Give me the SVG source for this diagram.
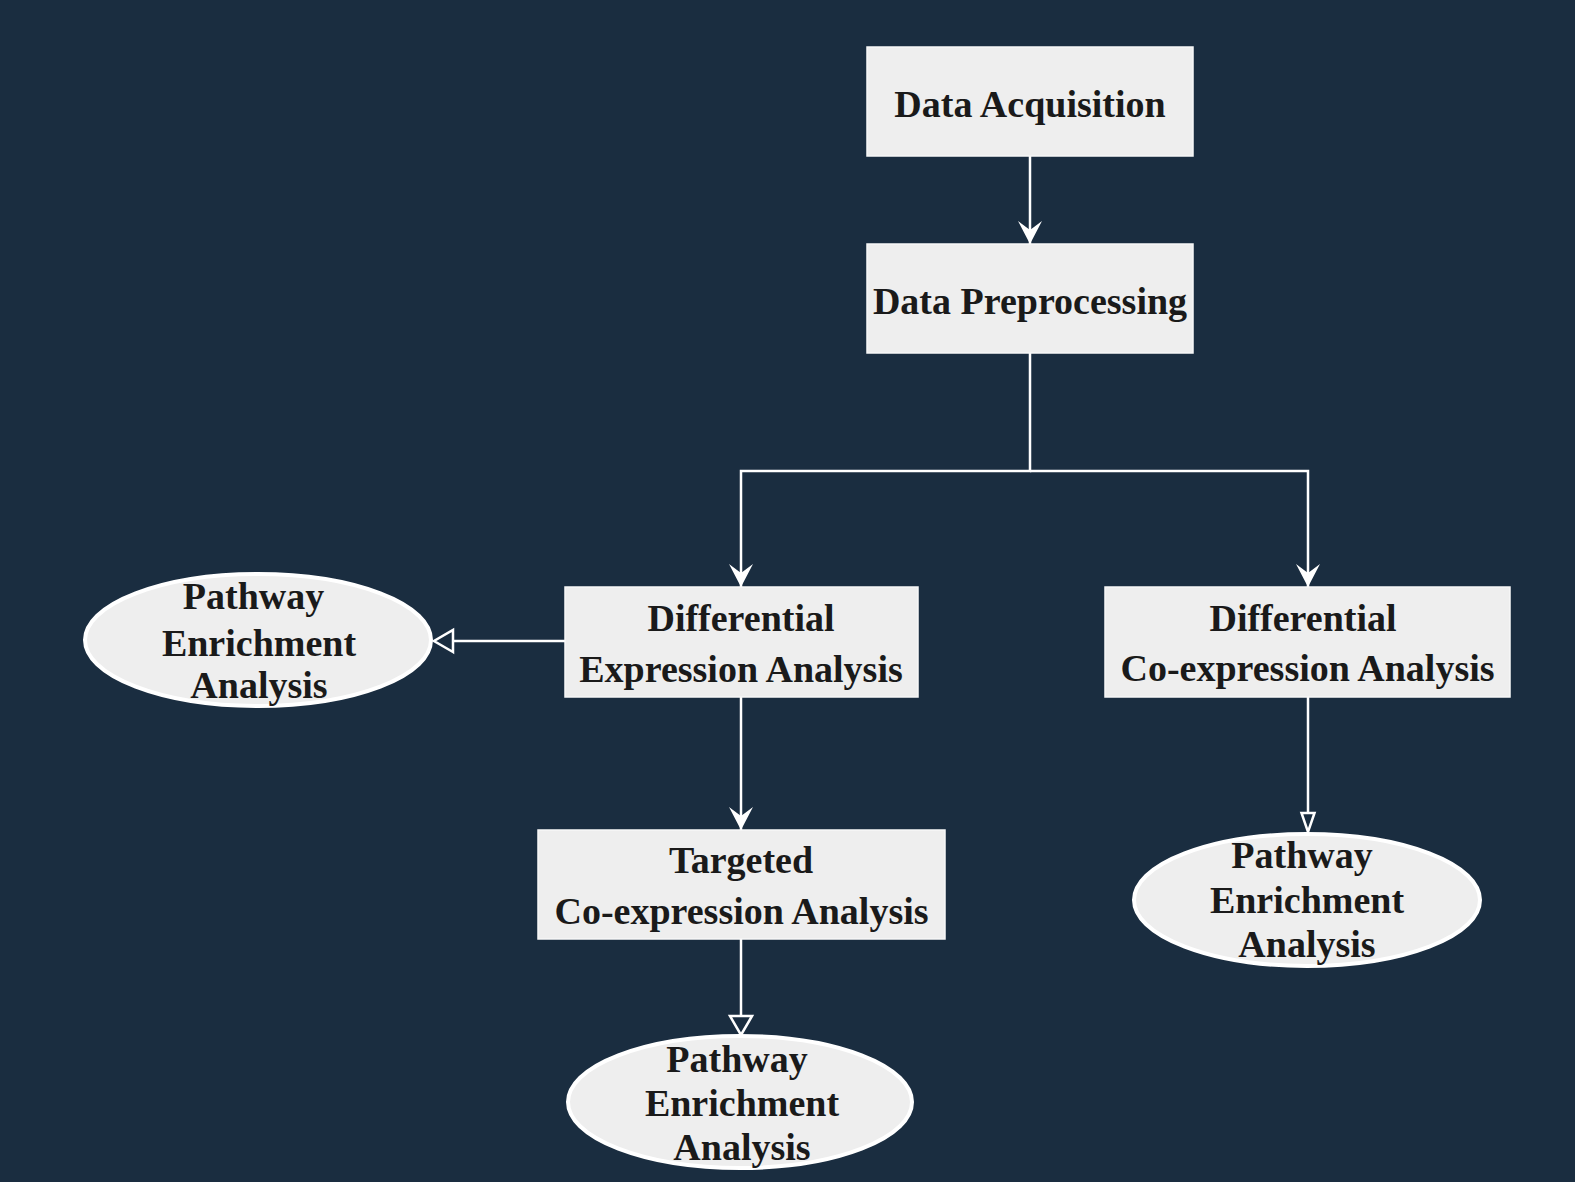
<svg xmlns="http://www.w3.org/2000/svg" width="1575" height="1182" viewBox="0 0 1575 1182">
<style>
.box{fill:#eeeeee;stroke:#f7f7f7;stroke-width:1.5}
.oval{fill:#eeeeee;stroke:#ffffff;stroke-width:4}
.lbl{font-family:"Liberation Serif","Times New Roman",serif;font-weight:bold;font-size:38px;fill:#1a1a1a;text-anchor:middle}
.edge{fill:none;stroke:#ffffff;stroke-width:2.5}
</style>
<defs>
<marker id="filled" markerUnits="userSpaceOnUse" markerWidth="24" markerHeight="24" viewBox="0 0 24 24" refX="23" refY="12" orient="auto" overflow="visible">
<path d="M0,0 L23,12 L0,24 L9,12 Z" fill="#ffffff"/>
</marker>
<marker id="open" markerUnits="userSpaceOnUse" markerWidth="20" markerHeight="22" viewBox="0 0 20 22" refX="0" refY="11" orient="auto" overflow="visible">
<path d="M0,0 L19,11 L0,22 Z" fill="#1a2d40" stroke="#ffffff" stroke-width="2.5"/>
</marker>
<marker id="open-narrow" markerUnits="userSpaceOnUse" markerWidth="20" markerHeight="14" viewBox="0 0 20 14" refX="0" refY="7" orient="auto" overflow="visible">
<path d="M0,0.5 L19,7 L0,13.5 Z" fill="#1a2d40" stroke="#ffffff" stroke-width="2.5"/>
</marker>
</defs>
<rect width="1575" height="1182" fill="#1a2d40"/>
<g id="connectors">
<path class="edge" d="M1030,156 L1030,244" marker-end="url(#filled)"/>
<path class="edge" d="M1030,353 L1030,471 L741,471 L741,587" marker-end="url(#filled)"/>
<path class="edge" d="M1030,471 L1308,471 L1308,587" marker-end="url(#filled)"/>
<path class="edge" d="M565,641 L453,641" marker-end="url(#open)"/>
<path class="edge" d="M741,697 L741,830" marker-end="url(#filled)"/>
<path class="edge" d="M741,939 L741,1016" marker-end="url(#open)"/>
<path class="edge" d="M1308,697 L1308,813" marker-end="url(#open-narrow)"/>
</g>
<g id="data-acquisition">
<rect class="box" x="867" y="47" width="326" height="109"/>
<text class="lbl" x="1030" y="117">Data Acquisition</text>
</g>
<g id="data-preprocessing">
<rect class="box" x="867" y="244" width="326" height="109"/>
<text class="lbl" x="1030" y="314">Data Preprocessing</text>
</g>
<g id="differential-expression">
<rect class="box" x="565" y="587" width="353" height="110"/>
<text class="lbl" x="741" y="631">Differential</text>
<text class="lbl" x="741" y="682">Expression Analysis</text>
</g>
<g id="differential-coexpression">
<rect class="box" x="1105" y="587" width="405" height="110"/>
<text class="lbl" x="1303" y="631">Differential</text>
<text class="lbl" x="1307.5" y="681">Co-expression Analysis</text>
</g>
<g id="targeted-coexpression">
<rect class="box" x="538" y="830" width="407" height="109"/>
<text class="lbl" x="741" y="873">Targeted</text>
<text class="lbl" x="741.5" y="924">Co-expression Analysis</text>
</g>
<g id="pathway-left">
<ellipse class="oval" cx="258" cy="640" rx="173" ry="66"/>
<text class="lbl" x="253.5" y="609">Pathway</text>
<text class="lbl" x="259" y="656">Enrichment</text>
<text class="lbl" x="259" y="698">Analysis</text>
</g>
<g id="pathway-bottom">
<ellipse class="oval" cx="740" cy="1102" rx="172" ry="66"/>
<text class="lbl" x="737" y="1072">Pathway</text>
<text class="lbl" x="742" y="1116">Enrichment</text>
<text class="lbl" x="742" y="1160">Analysis</text>
</g>
<g id="pathway-right">
<ellipse class="oval" cx="1307" cy="900" rx="173" ry="66"/>
<text class="lbl" x="1302" y="868">Pathway</text>
<text class="lbl" x="1307" y="913">Enrichment</text>
<text class="lbl" x="1307" y="957">Analysis</text>
</g>
</svg>
